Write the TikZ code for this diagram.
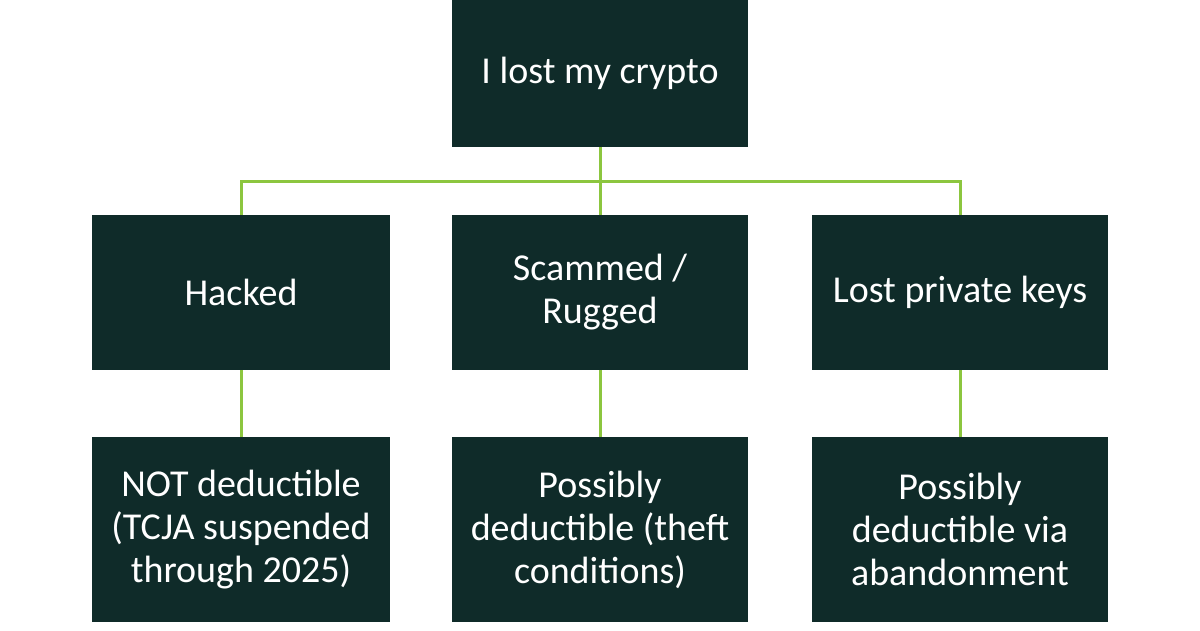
\documentclass[tikz,border=0pt]{standalone}
\usepackage{fontspec}
\setmainfont{Carlito}
\definecolor{boxc}{HTML}{0F2B29}
\definecolor{linec}{HTML}{8CC63F}
\begin{document}
\begin{tikzpicture}[x=1pt,y=1pt,
 box/.style={fill=boxc,text=white,inner sep=0pt,align=center,font=\fontsize{38}{43}\selectfont},
 conn/.style={draw=linec,line width=3pt}]
\useasboundingbox (0,0) rectangle (1200,630);
\fill[white] (0,0) rectangle (1200,630);
\node[box,minimum width=296pt,minimum height=147pt] (top) at (600,556.5) {I lost my crypto};
\node[box,minimum width=298pt,minimum height=155pt] (m1) at (241,337.5) {Hacked};
\node[box,minimum width=296pt,minimum height=155pt] (m2) at (600,337.5) {Scammed /\\Rugged};
\node[box,minimum width=296pt,minimum height=155pt] (m3) at (960,337.5) {Lost private keys};
\node[box,minimum width=298pt,minimum height=185pt] (b1) at (241,100.5) {NOT deductible\\(TCJA suspended\\through 2025)};
\node[box,minimum width=296pt,minimum height=185pt] (b2) at (600,100.5) {Possibly\\deductible (theft\\conditions)};
\node[box,minimum width=296pt,minimum height=185pt] (b3) at (960,100.5) {Possibly\\deductible via\\abandonment};
\coordinate (j) at (600,448);
\draw[conn] (top.south) -- (j);
\draw[conn] (m1.north) |- (j) -| (m3.north);
\draw[conn] (j) -- (m2.north);
\draw[conn] (m1.south) -- (b1.north);
\draw[conn] (m2.south) -- (b2.north);
\draw[conn] (m3.south) -- (b3.north);
\end{tikzpicture}
\end{document}
